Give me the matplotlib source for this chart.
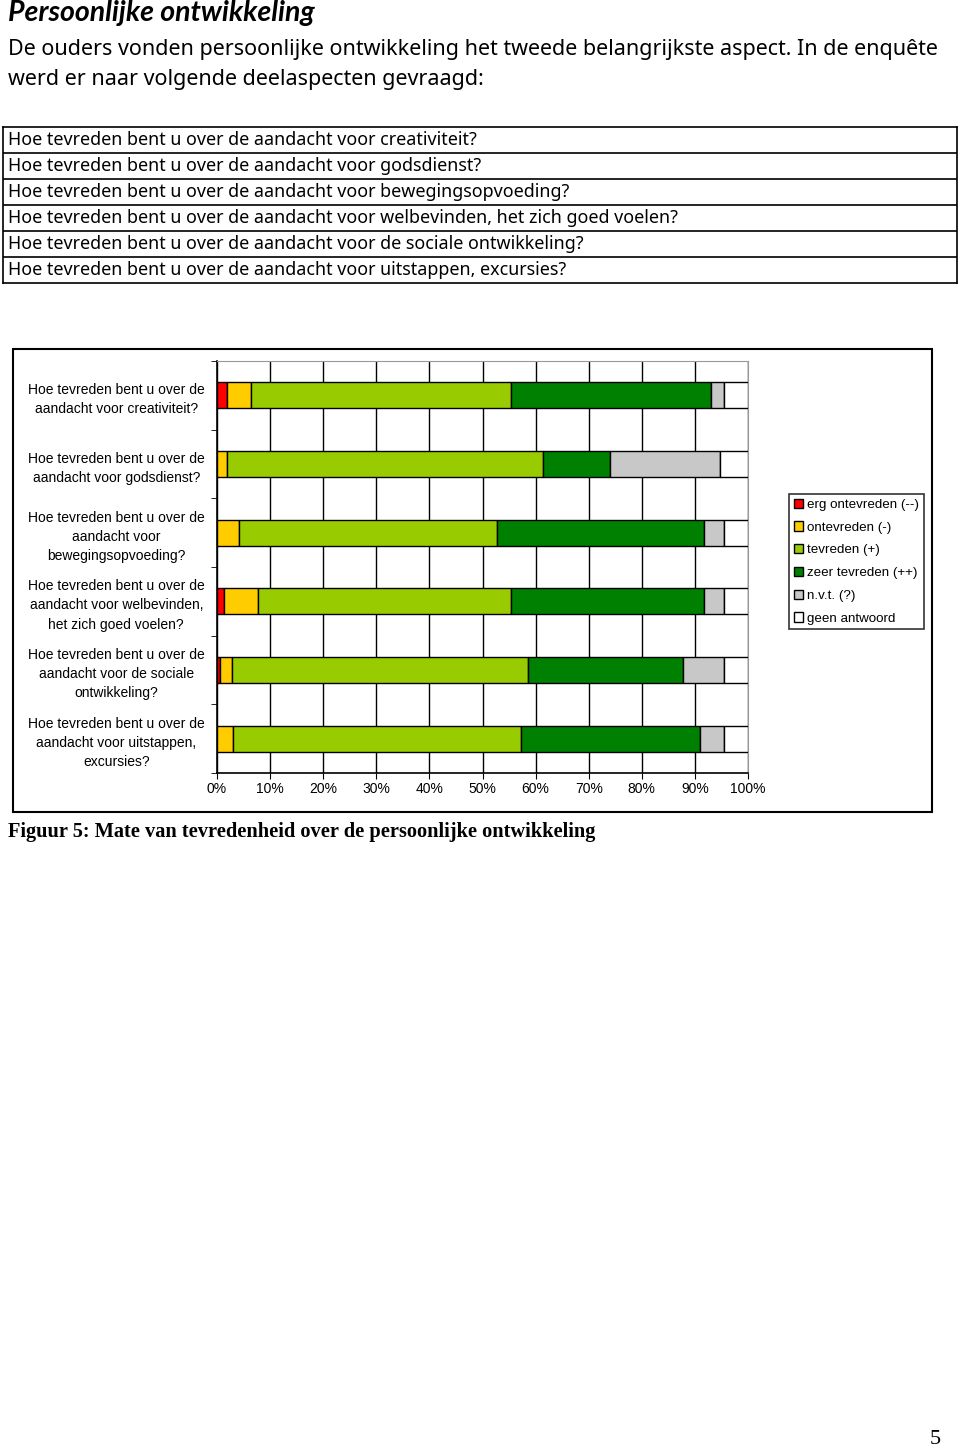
import matplotlib
matplotlib.use('Agg')
import matplotlib.pyplot as plt
from matplotlib.patches import Rectangle
import numpy as np

# data
questions = ['Hoe tevreden bent u over de aandacht voor creativiteit?',
             'Hoe tevreden bent u over de aandacht voor godsdienst?',
             'Hoe tevreden bent u over de aandacht voor bewegingsopvoeding?',
             'Hoe tevreden bent u over de aandacht voor welbevinden, het zich goed voelen?',
             'Hoe tevreden bent u over de aandacht voor de sociale ontwikkeling?',
             'Hoe tevreden bent u over de aandacht voor uitstappen, excursies?']

y_labels = ['Hoe tevreden bent u over de\naandacht voor creativiteit?',
            'Hoe tevreden bent u over de\naandacht voor godsdienst?',
            'Hoe tevreden bent u over de\naandacht voor\nbewegingsopvoeding?',
            'Hoe tevreden bent u over de\naandacht voor welbevinden,\nhet zich goed voelen?',
            'Hoe tevreden bent u over de\naandacht voor de sociale\nontwikkeling?',
            'Hoe tevreden bent u over de\naandacht voor uitstappen,\nexcursies?']

series_names = ['erg ontevreden (--)', 'ontevreden (-)', 'tevreden (+)',
                'zeer tevreden (++)', 'n.v.t. (?)', 'geen antwoord']
series_colors = ['#FF0000', '#FFCC00', '#99CC00', '#008000', '#C8C8C8', '#FFFFFF']

erg_ontevreden = [1.8, 0.0, 0.0, 1.4, 0.5, 0.0]
ontevreden = [4.6, 1.8, 4.2, 6.4, 2.3, 3.1]
tevreden = [49.0, 59.6, 48.6, 47.6, 55.7, 54.1]
zeer_tevreden = [37.7, 12.6, 39.0, 36.4, 29.3, 33.7]
nvt = [2.4, 20.8, 3.6, 3.6, 7.6, 4.5]
geen_antwoord = [4.5, 5.2, 4.6, 4.6, 4.6, 4.6]

x_ticks = [0, 10, 20, 30, 40, 50, 60, 70, 80, 90, 100]
x_labels = ['0%', '10%', '20%', '30%', '40%', '50%', '60%', '70%', '80%', '90%', '100%']

W, H = 960, 1450
fig = plt.figure(figsize=(W / 100, H / 100), dpi=100)

def fx(px):
    return px / W

def fy(py):
    return 1 - py / H

body = 'Noto Sans'

# header text
fig.text(fx(8), fy(13), 'Persoonlijke ontwikkeling', family='Lato', weight='bold',
         style='italic', fontsize=20.5, va='center', ha='left')
fig.text(fx(8), fy(50), 'De ouders vonden persoonlijke ontwikkeling het tweede belangrijkste aspect. In de enquête',
         family=body, fontsize=15.5, va='center', ha='left')
fig.text(fx(8), fy(80), 'werd er naar volgende deelaspecten gevraagd:',
         family=body, fontsize=15.5, va='center', ha='left')

# question table
tab = fig.add_axes([fx(3), fy(283), fx(957) - fx(3), fy(127) - fy(283)])
tab.set_xlim(0, 1)
tab.set_ylim(len(questions), 0)
tab.set_xticks([])
tab.set_yticks([])
for s in tab.spines.values():
    s.set_linewidth(1.2)
for i, q in enumerate(questions):
    tab.text(0.005, i + 0.5, q, family=body, fontsize=12.9, va='center', ha='left')
    if i > 0:
        tab.axhline(i, color='black', lw=1.2)

# chart frame
fig.patches.append(Rectangle((fx(13), fy(812)), fx(932) - fx(13), fy(349) - fy(812),
                             transform=fig.transFigure, fill=False, edgecolor='black', lw=1.5))

ax = fig.add_axes([fx(217), fy(773), fx(748) - fx(217), fy(361) - fy(773)])
series = [erg_ontevreden, ontevreden, tevreden, zeer_tevreden, nvt, geen_antwoord]
ypos = np.arange(len(y_labels))
left = np.zeros(len(y_labels))
for name, vals, col in zip(series_names, series, series_colors):
    vals = np.array(vals)
    ax.barh(ypos, vals, left=left, height=0.38, color=col, edgecolor='black',
            linewidth=1, label=name, zorder=3)
    left += vals

ax.set_xlim(0, 100)
ax.set_ylim(len(y_labels) - 0.5, -0.5)
ax.set_xticks(x_ticks)
ax.set_xticklabels(x_labels, family='Liberation Sans', fontsize=10)
ax.set_yticks(ypos)
ax.set_yticklabels(y_labels, family='Liberation Sans', fontsize=10, ha='center',
                   linespacing=1.48)
ax.set_yticks(np.arange(-0.5, len(y_labels), 1), minor=True)
ax.tick_params(axis='y', which='major', length=0, pad=72.5)
ax.tick_params(axis='y', which='minor', length=4, direction='out')
ax.tick_params(axis='x', length=4, direction='out', pad=2.5)
ax.xaxis.grid(True, color='black', lw=1, zorder=0)
ax.spines['top'].set_color('#999999')
ax.spines['right'].set_color('#999999')
ax.spines['left'].set_linewidth(1.2)
ax.spines['bottom'].set_linewidth(1.2)

handles, labels = ax.get_legend_handles_labels()
leg = fig.legend(handles, labels, loc='upper left',
                 bbox_to_anchor=(fx(789), fy(494)), frameon=True, fancybox=False,
                 edgecolor='black', prop={'family': 'Liberation Sans', 'size': 9.6},
                 handlelength=0.7, handleheight=0.7, handletextpad=0.3,
                 labelspacing=0.78, borderpad=0.35, borderaxespad=0)
leg.get_frame().set_linewidth(1.2)

# caption and page number
fig.text(fx(8), fy(832), 'Figuur 5: Mate van tevredenheid over de persoonlijke ontwikkeling',
         family='Liberation Serif', weight='bold', fontsize=14.7, va='center', ha='left')
fig.text(fx(935), fy(1440), '5', family='Liberation Serif', fontsize=16, va='center', ha='center')

fig.savefig('out.png', dpi=100)
